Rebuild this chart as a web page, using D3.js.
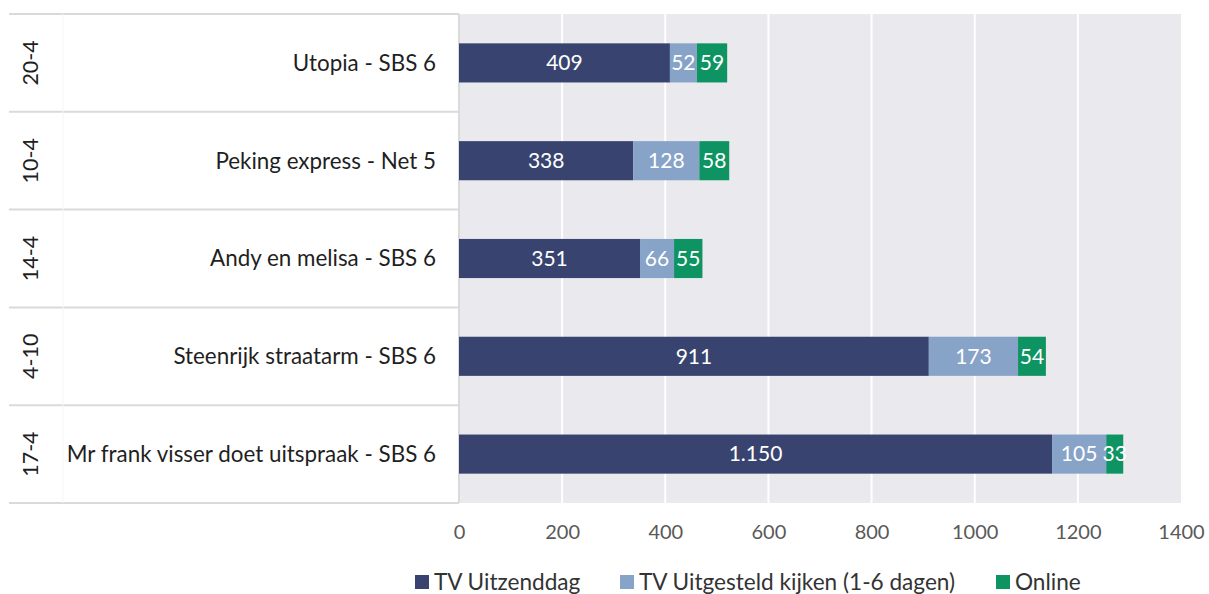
<!DOCTYPE html>
<html>
<head>
<meta charset="utf-8">
<script src="https://cdn.jsdelivr.net/npm/d3@7"></script>
<style>
  body { margin: 0; background: #fff; }
  svg { font-family: Lato, "Open Sans", sans-serif; }
</style>
</head>
<body>
<svg id="chart"></svg>
<script>
const dates = ['20-4', '10-4', '14-4', '4-10', '17-4']
const programmes = ['Utopia - SBS 6', 'Peking express - Net 5', 'Andy en melisa - SBS 6', 'Steenrijk straatarm - SBS 6', 'Mr frank visser doet uitspraak - SBS 6']
const uitzenddag = [409, 338, 351, 911, 1150]
const uitgesteld = [52, 128, 66, 173, 105]
const online = [59, 58, 55, 54, 33]
const seriesNames = ['TV Uitzenddag', 'TV Uitgesteld kijken (1-6 dagen)', 'Online']
const xTicks = [0, 200, 400, 600, 800, 1000, 1200, 1400]

const colors = ['#38446f', '#88a3c8', '#0e9462']
const W = 1209, H = 594
const plot = {left: 459, right: 1181, top: 14, bottom: 503}
const labelLeft = 9

let svg = d3.select('#chart').attr('width', W).attr('height', H)

let rows = programmes.map((p, i) => ({
    date: dates[i], name: p,
    vals: [uitzenddag[i], uitgesteld[i], online[i]]
}))

let x = d3.scaleLinear().domain([0, 1400]).range([plot.left, plot.right])
let y = d3.scaleBand().domain(programmes).range([plot.top, plot.bottom]).paddingInner(0).paddingOuter(0)

// grey plot area + white gridlines
svg.append('rect')
    .attr('x', plot.left).attr('y', plot.top)
    .attr('width', plot.right - plot.left).attr('height', plot.bottom - plot.top)
    .attr('fill', '#e9e9ee')

svg.append('g').selectAll('line')
    .data(xTicks.slice(1, -1))
    .enter().append('line')
    .attr('x1', d => x(d)).attr('x2', d => x(d))
    .attr('y1', plot.top).attr('y2', plot.bottom)
    .attr('stroke', '#fff').attr('stroke-width', 2)

// category label table lines
let bounds = programmes.map(p => y(p)).concat([plot.bottom])
svg.append('g').selectAll('line')
    .data(bounds)
    .enter().append('line')
    .attr('x1', labelLeft).attr('x2', plot.left)
    .attr('y1', d => d).attr('y2', d => d)
    .attr('stroke', '#dadada').attr('stroke-width', 2)
svg.append('line')
    .attr('x1', plot.left).attr('x2', plot.left)
    .attr('y1', plot.top).attr('y2', plot.bottom)
    .attr('stroke', '#dadada').attr('stroke-width', 2)
svg.append('line')
    .attr('x1', 63).attr('x2', 63)
    .attr('y1', plot.top).attr('y2', plot.bottom)
    .attr('stroke', '#f5f5f5').attr('stroke-width', 1)

// labels
let labG = svg.append('g')
labG.selectAll('.name')
    .data(rows)
    .enter().append('text')
    .attr('class', 'name')
    .attr('x', 436)
    .attr('y', d => y(d.name) + y.bandwidth() / 2)
    .attr('dy', '0.35em')
    .attr('text-anchor', 'end')
    .attr('font-size', 22.4)
    .attr('fill', '#1f1f1f')
    .text(d => d.name)

labG.selectAll('.date')
    .data(rows)
    .enter().append('text')
    .attr('class', 'date')
    .attr('transform', d => `translate(30, ${y(d.name) + y.bandwidth() / 2}) rotate(-90)`)
    .attr('dy', '0.35em')
    .attr('text-anchor', 'middle')
    .attr('font-size', 21.5)
    .attr('fill', '#1f1f1f')
    .text(d => d.date)

// stacked bars
let stack = d3.stack().keys([0, 1, 2])(rows.map(r => r.vals))
let barH = y.bandwidth() * 0.4
let fmt = d3.formatLocale({decimal: ',', thousands: '.', grouping: [3], currency: ['€', '']}).format(',')

let layers = svg.append('g').selectAll('g')
    .data(stack)
    .enter().append('g')
    .attr('fill', (d, i) => colors[i])

layers.selectAll('rect')
    .data(d => d.map((s, j) => ({s: s, row: rows[j]})))
    .enter().append('rect')
    .attr('x', d => x(d.s[0]))
    .attr('width', d => x(d.s[1]) - x(d.s[0]))
    .attr('y', d => y(d.row.name) + (y.bandwidth() - barH) / 2)
    .attr('height', barH)

layers.selectAll('text')
    .data(d => d.map((s, j) => ({s: s, row: rows[j]})))
    .enter().append('text')
    .attr('x', d => (x(d.s[0]) + x(d.s[1])) / 2)
    .attr('y', d => y(d.row.name) + y.bandwidth() / 2)
    .attr('dy', '0.35em')
    .attr('text-anchor', 'middle')
    .attr('font-size', 21)
    .attr('fill', '#fff')
    .text(d => fmt(d.s[1] - d.s[0]))

// x axis
let axis = svg.append('g')
    .attr('transform', `translate(0, ${plot.bottom})`)
    .call(d3.axisBottom(x).tickValues(xTicks).tickSize(0).tickPadding(22).tickFormat(d => d))
axis.select('.domain').remove()
axis.selectAll('text')
    .attr('font-size', 20)
    .attr('font-family', 'Lato, "Open Sans", sans-serif')
    .attr('fill', '#595959')

// legend
let legendX = [415, 620, 996]
let leg = svg.append('g').selectAll('g')
    .data(seriesNames)
    .enter().append('g')
    .attr('transform', (d, i) => `translate(${legendX[i]}, 582)`)
leg.append('rect')
    .attr('x', 0).attr('y', -7).attr('width', 14).attr('height', 14)
    .attr('fill', (d, i) => colors[i])
leg.append('text')
    .attr('x', 19).attr('dy', '0.35em')
    .attr('font-size', 22.6)
    .attr('fill', '#333')
    .text(d => d)
</script>
</body>
</html>
